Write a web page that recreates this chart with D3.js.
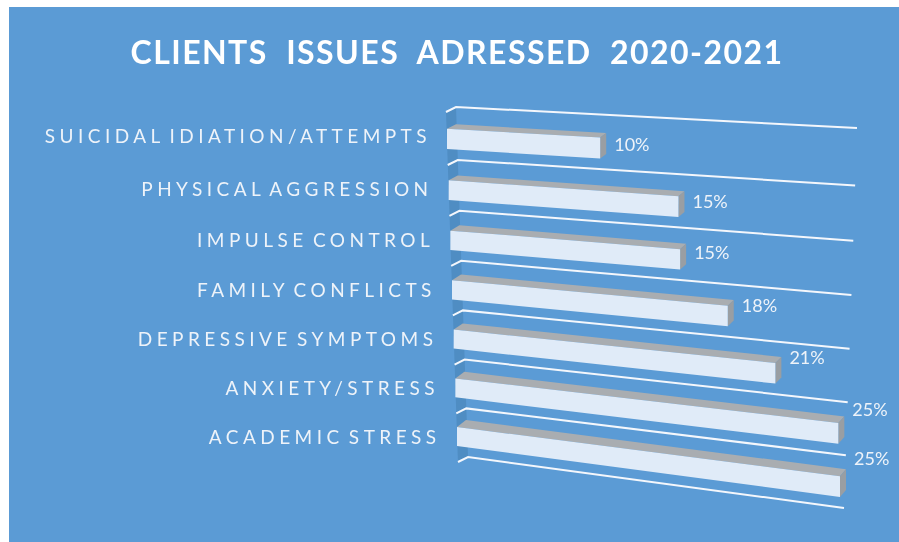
<!DOCTYPE html>
<html><head><meta charset="utf-8">
<script src="https://cdn.jsdelivr.net/npm/d3@7"></script>
<style>html,body{margin:0;padding:0;background:#fff;overflow:hidden}svg{display:block;filter:blur(0.4px)}</style>
</head><body><svg id="c" width="899" height="542"></svg>
<script>
const titleText = "CLIENTS  ISSUES  ADRESSED  2020-2021";
const categories = ["SUICIDAL IDIATION/ATTEMPTS","PHYSICAL AGGRESSION","IMPULSE CONTROL","FAMILY CONFLICTS","DEPRESSIVE SYMPTOMS","ANXIETY/STRESS","ACADEMIC STRESS"];
const values = [10,15,15,18,21,25,25];
const axisMax = 25;

const svg = d3.select("#c");
svg.append("rect").attr("x",9).attr("y",7).attr("width",890).attr("height",535).attr("fill","#5b9bd5");

const n = categories.length;
// floor plane of the 3-D chart: row position -> page position
const depth = d3.scalePow().exponent(0.97).domain([0,n]).range([0,1]);
const yL = d3.scaleLinear().domain([0,1]).range([107,457]);
const yR = d3.scaleLinear().domain([0,1]).range([128,508]);
const xL = d3.scaleLinear().domain([0,n]).range([456,468]);
const xR = d3.scaleLinear().domain([0,n]).range([857,844]);
const barLeft = d3.scaleLinear().domain([0,n-1]).range([447,457]);
const xVal = d3.scaleLinear().domain([0,axisMax]).range([0,383]);
// y of floor row w at page x
const floorY = (w,x)=>{
  const t=(x-xL(w))/(xR(w)-xL(w)), d=depth(w);
  return yL(d)+(yR(d)-yL(d))*t;
};
const line = d3.line();
const closed = d3.line().curve(d3.curveLinearClosed);

// side wall
svg.append("path").attr("fill","#4f8dc3")
  .attr("d",closed([[xL(0),yL(0)],[xL(n),yL(1)],[xL(n)-10,yL(1)+6],[xL(0)-10,yL(0)+5]]));

// grid lines with hooks
const ticks = d3.range(n+1);
svg.append("g").selectAll("path").data(ticks).join("path")
  .attr("fill","none").attr("stroke","#f4f7fc").attr("stroke-width",2)
  .attr("d",w=>line([[xL(w)-10,floorY(w,xL(w))+5],[xL(w),floorY(w,xL(w))],[xR(w),floorY(w,xR(w))]]));

// bars
const A=0.41,B=0.80;
const bars = svg.append("g").selectAll("g").data(values).join("g");
const geo=(v,i)=>{
  const x0=barLeft(i),x1=x0+xVal(v);
  const tl=[x0,floorY(i+A,x0)],tr=[x1,floorY(i+A,x1)],
        bl=[x0,floorY(i+B,x0)],br=[x1,floorY(i+B,x1)];
  return {x0,x1,tl,tr,bl,br};
};
const back=(p,dx,dy)=>[p[0]+dx,p[1]+dy];
const lift=d3.scaleLinear().domain([0,n-1]).range([-4.5,-7]);
bars.append("path").attr("fill","#a9adb1").attr("d",(v,i)=>{const g=geo(v,i);
  return closed([g.tl,back(g.tl,9,lift(i)),back(g.tr,6,lift(i)),g.tr]);});
bars.append("path").attr("fill","#999ea3").attr("d",(v,i)=>{const g=geo(v,i);
  return closed([g.tr,back(g.tr,6,lift(i)),back(g.br,6,lift(i)),g.br]);});
bars.append("path").attr("fill","#e0ebf8").attr("d",(v,i)=>{const g=geo(v,i);
  return closed([g.tl,g.tr,g.br,g.bl]);});

// category labels
const labelY=i=>yL(depth(i))+29;
svg.append("g").selectAll("text").data(categories).join("text")
  .attr("x",(d,i)=>431+i*1.6).attr("y",(d,i)=>labelY(i)).attr("dy","0.36em")
  .attr("text-anchor","end").attr("fill","#eef3f9")
  .style("font","19px Lato").style("letter-spacing","4.45px").style("word-spacing","-4px").text(d=>d);

// value labels
svg.append("g").selectAll("text").data(values).join("text")
  .attr("x",(v,i)=>geo(v,i).x1+14).attr("y",(v,i)=>labelY(i)+0.055*xVal(v)).attr("dy","0.36em")
  .attr("fill","#eef3f9").style("font","18px Lato").text(v=>v+"%");

// title
svg.append("text").attr("x",457).attr("y",64).attr("text-anchor","middle")
  .attr("fill","#fff").attr("xml:space","preserve").style("white-space","pre")
  .style("font","bold 32px Lato").style("letter-spacing","1.45px").text(titleText);
</script></body></html>
